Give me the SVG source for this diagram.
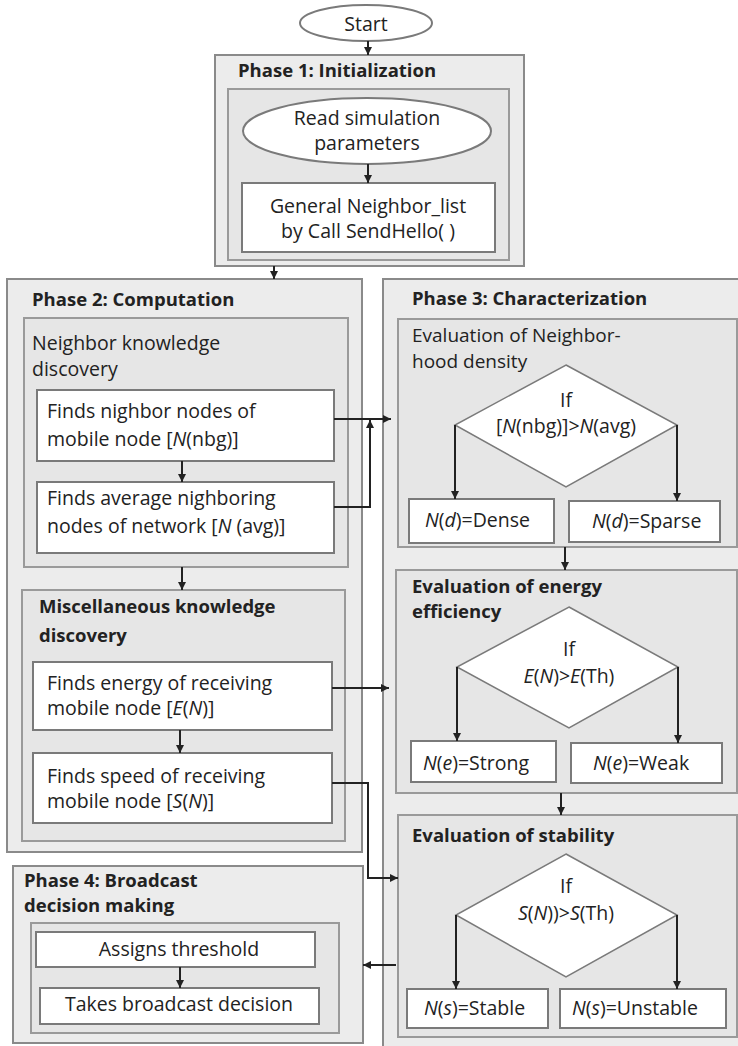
<svg xmlns="http://www.w3.org/2000/svg" width="738" height="1046" viewBox="0 0 738 1046">
  <defs>
    <marker id="arrow" viewBox="0 0 10 10" refX="10" refY="5" markerWidth="4" markerHeight="4" orient="auto" markerUnits="strokeWidth">
      <path d="M0,0 L10,5 L0,10 z" fill="#222"/>
    </marker>
    <style>
      text { font-family: "Open Sans", "Liberation Sans", sans-serif; font-size: 19.5px; fill: #222; }
      .b { font-weight: bold; font-size: 18.5px; }
      .s { font-size: 19px; }
      .c { text-anchor: middle; }
      .i { font-style: italic; }
      .outer { fill: #ececec; stroke: #8a8a8a; stroke-width: 2; }
      .inner { fill: #e6e6e6; stroke: #9a9a9a; stroke-width: 2; }
      .box { fill: #ffffff; stroke: #7a7a7a; stroke-width: 2; }
      .dia { fill: #ffffff; stroke: #7a7a7a; stroke-width: 1.5; }
      .conn { fill: none; stroke: #222; stroke-width: 2; marker-end: url(#arrow); }
    </style>
  </defs>

  <rect width="738" height="1046" fill="#ffffff"/>

  <!-- Start -->
  <g id="start">
    <ellipse cx="366" cy="23" rx="66" ry="18" class="box"/>
    <text x="366" y="31" class="c">Start</text>
  </g>

  <!-- Phase 1 -->
  <g id="phase1">
    <rect x="215" y="55" width="309" height="211" class="outer"/>
    <text x="238" y="77" class="b">Phase 1: Initialization</text>
    <rect x="228" y="89" width="281" height="171" class="inner"/>
  </g>
  <g id="read-params">
    <ellipse cx="367" cy="131" rx="124" ry="33" class="box"/>
    <text x="367" y="125" class="c">Read simulation</text>
    <text x="367" y="150" class="c">parameters</text>
  </g>
  <g id="neighbor-list">
    <rect x="242" y="183" width="253" height="69" class="box"/>
    <text x="368" y="213" class="c">General Neighbor_list</text>
    <text x="368" y="238" class="c">by Call SendHello( )</text>
  </g>

  <!-- Phase 2 -->
  <g id="phase2">
    <rect x="7" y="279" width="355" height="573" class="outer"/>
    <text x="32" y="306" class="b">Phase 2: Computation</text>
  </g>
  <g id="neighbor-knowledge">
    <rect x="24" y="318" width="324" height="249" class="inner"/>
    <text x="32" y="350">Neighbor knowledge</text>
    <text x="32" y="376">discovery</text>
  </g>
  <g id="find-nbg">
    <rect x="37" y="390" width="297" height="71" class="box"/>
    <text x="47" y="418">Finds nighbor nodes of</text>
    <text x="47" y="446">mobile node [<tspan class="i">N</tspan>(nbg)]</text>
  </g>
  <g id="find-avg">
    <rect x="37" y="482" width="297" height="71" class="box"/>
    <text x="47" y="505">Finds average nighboring</text>
    <text x="47" y="533">nodes of network [<tspan class="i">N</tspan> (avg)]</text>
  </g>
  <g id="misc-knowledge">
    <rect x="22" y="590" width="323" height="251" class="inner"/>
    <text x="39" y="613" class="b">Miscellaneous knowledge</text>
    <text x="39" y="642" class="b">discovery</text>
  </g>
  <g id="find-energy">
    <rect x="33" y="662" width="299" height="68" class="box"/>
    <text x="47" y="690">Finds energy of receiving</text>
    <text x="47" y="715">mobile node [<tspan class="i">E</tspan>(<tspan class="i">N</tspan>)]</text>
  </g>
  <g id="find-speed">
    <rect x="33" y="753" width="299" height="70" class="box"/>
    <text x="47" y="783">Finds speed of receiving</text>
    <text x="47" y="808">mobile node [<tspan class="i">S</tspan>(<tspan class="i">N</tspan>)]</text>
  </g>

  <!-- Phase 4 -->
  <g id="phase4">
    <rect x="13" y="866" width="350" height="177" class="outer"/>
    <text x="24" y="887" class="b">Phase 4: Broadcast</text>
    <text x="24" y="912" class="b">decision making</text>
    <rect x="31" y="923" width="308" height="110" class="inner"/>
  </g>
  <g id="assign-threshold">
    <rect x="36" y="932" width="279" height="35" class="box"/>
    <text x="179" y="956" class="c">Assigns threshold</text>
  </g>
  <g id="broadcast-decision">
    <rect x="40" y="988" width="279" height="36" class="box"/>
    <text x="179" y="1011" class="c">Takes broadcast decision</text>
  </g>

  <!-- Phase 3 -->
  <g id="phase3">
    <rect x="383" y="279" width="362" height="771" class="outer"/>
    <text x="412" y="305" class="b">Phase 3: Characterization</text>
  </g>
  <g id="density">
    <rect x="398" y="319" width="339" height="228" class="inner"/>
    <text x="412" y="342" class="s">Evaluation of Neighbor-</text>
    <text x="412" y="368" class="s">hood density</text>
    <polygon points="566,365 677,425 566,487 455,425" class="dia"/>
    <text x="566" y="407" class="c">If</text>
    <text x="566" y="433" class="c">[<tspan class="i">N</tspan>(nbg)]&gt;<tspan class="i">N</tspan>(avg)</text>
  </g>
  <g id="dense">
    <rect x="409" y="499" width="145" height="44" class="box"/>
    <text x="425" y="527"><tspan class="i">N</tspan>(<tspan class="i">d</tspan>)=Dense</text>
  </g>
  <g id="sparse">
    <rect x="569" y="501" width="151" height="41" class="box"/>
    <text x="592" y="528"><tspan class="i">N</tspan>(<tspan class="i">d</tspan>)=Sparse</text>
  </g>
  <g id="energy">
    <rect x="396" y="570" width="341" height="223" class="inner"/>
    <text x="412" y="593" class="b">Evaluation of energy</text>
    <text x="412" y="618" class="b">efficiency</text>
    <polygon points="569,607 678,667 569,728 457,667" class="dia"/>
    <text x="569" y="656" class="c">If</text>
    <text x="569" y="683" class="c"><tspan class="i">E</tspan>(<tspan class="i">N</tspan>)&gt;<tspan class="i">E</tspan>(Th)</text>
  </g>
  <g id="strong">
    <rect x="411" y="741" width="145" height="41" class="box"/>
    <text x="423" y="770"><tspan class="i">N</tspan>(<tspan class="i">e</tspan>)=Strong</text>
  </g>
  <g id="weak">
    <rect x="571" y="743" width="151" height="40" class="box"/>
    <text x="593" y="770"><tspan class="i">N</tspan>(<tspan class="i">e</tspan>)=Weak</text>
  </g>
  <g id="stability">
    <rect x="398" y="815" width="339" height="222" class="inner"/>
    <text x="412" y="842" class="b">Evaluation of stability</text>
    <polygon points="566,854 677,915 566,977 456,915" class="dia"/>
    <text x="566" y="893" class="c">If</text>
    <text x="566" y="920" class="c"><tspan class="i">S</tspan>(<tspan class="i">N</tspan>))&gt;<tspan class="i">S</tspan>(Th)</text>
  </g>
  <g id="stable">
    <rect x="407" y="989" width="141" height="39" class="box"/>
    <text x="424" y="1015"><tspan class="i">N</tspan>(<tspan class="i">s</tspan>)=Stable</text>
  </g>
  <g id="unstable">
    <rect x="560" y="989" width="166" height="39" class="box"/>
    <text x="572" y="1015"><tspan class="i">N</tspan>(<tspan class="i">s</tspan>)=Unstable</text>
  </g>

  <!-- Connectors -->
  <g id="connectors">
    <path d="M368,41 V55" class="conn"/>
    <path d="M368,164 V183" class="conn"/>
    <path d="M274,266 V279" class="conn"/>
    <path d="M182,461 V482" class="conn"/>
    <path d="M182,567 V590" class="conn"/>
    <path d="M180,730 V753" class="conn"/>
    <path d="M180,967 V988" class="conn"/>
    <path d="M334,419 H391" class="conn"/>
    <path d="M334,507 H370 V420" class="conn"/>
    <path d="M332,688 H389" class="conn"/>
    <path d="M332,783 H368 V878 H398" class="conn"/>
    <path d="M396,965 H363" class="conn"/>
    <path d="M455,425 V499" class="conn"/>
    <path d="M677,425 V501" class="conn"/>
    <path d="M565,547 V570" class="conn"/>
    <path d="M457,667 V741" class="conn"/>
    <path d="M678,667 V743" class="conn"/>
    <path d="M561,793 V815" class="conn"/>
    <path d="M456,915 V989" class="conn"/>
    <path d="M677,915 V989" class="conn"/>
  </g>
</svg>
